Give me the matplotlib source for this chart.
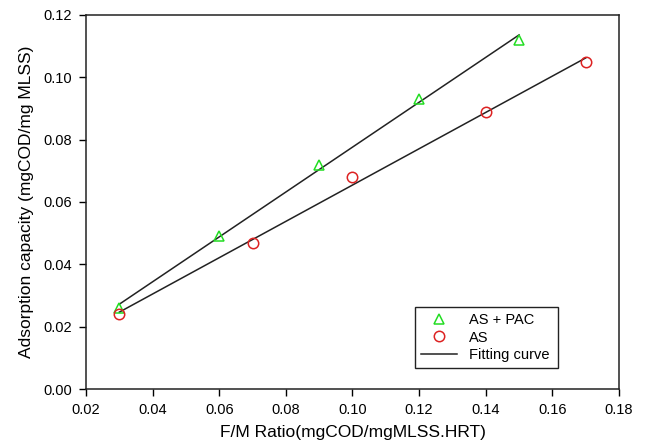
import numpy as np
import matplotlib
matplotlib.use("Agg")
import matplotlib.pyplot as plt
from matplotlib.lines import Line2D

plt.rcParams['font.family'] = ['Liberation Sans', 'DejaVu Sans']

# Data
x_pac = [0.03, 0.06, 0.09, 0.12, 0.15]
y_pac = [0.026, 0.049, 0.072, 0.093, 0.112]
x_as = [0.03, 0.07, 0.10, 0.14, 0.17]
y_as = [0.024, 0.047, 0.068, 0.089, 0.105]

xticks = [0.02, 0.04, 0.06, 0.08, 0.10, 0.12, 0.14, 0.16, 0.18]
yticks = [0.00, 0.02, 0.04, 0.06, 0.08, 0.10, 0.12]

fig = plt.figure(figsize=(6.46, 4.46), dpi=100)
ax = fig.add_axes([0.1331, 0.1278, 0.8251, 0.8386])

# fitted lines
for xs, ys in [(x_pac, y_pac), (x_as, y_as)]:
    xs_a = np.array(xs); ys_a = np.array(ys)
    k, b = np.polyfit(xs_a, ys_a, 1)
    xl = np.array([xs_a.min(), xs_a.max()])
    ax.plot(xl, k * xl + b, color='#222222', lw=1.1, zorder=2)

ax.plot(x_pac, y_pac, linestyle='none', marker='^', markersize=7.5,
        markerfacecolor='none', markeredgecolor='#22dd22', markeredgewidth=1.1, zorder=3)
ax.plot(x_as, y_as, linestyle='none', marker='o', markersize=7.5,
        markerfacecolor='none', markeredgecolor='#dd2222', markeredgewidth=1.1, zorder=3)

ax.set_xlim(0.02, 0.18)
ax.set_ylim(0.0, 0.12)
ax.set_xticks(xticks)
ax.set_yticks(yticks)
ax.set_xticklabels([f"{v:.2f}" for v in xticks])
ax.set_yticklabels([f"{v:.2f}" for v in yticks])
ax.tick_params(direction='out', length=5, width=1, labelsize=10.5, pad=5)
for s in ax.spines.values():
    s.set_linewidth(1.1)
    s.set_color('#222222')

ax.set_xlabel('F/M Ratio(mgCOD/mgMLSS.HRT)', fontsize=12.5, labelpad=6)
ax.set_ylabel('Adsorption capacity (mgCOD/mg MLSS)', fontsize=12.5, labelpad=7)

handles = [
    Line2D([], [], linestyle='none', marker='^', markersize=7.5, markerfacecolor='none',
           markeredgecolor='#22dd22', markeredgewidth=1.1),
    Line2D([], [], linestyle='none', marker='o', markersize=7.5, markerfacecolor='none',
           markeredgecolor='#dd2222', markeredgewidth=1.1),
    Line2D([], [], color='#222222', lw=1.1),
]
leg = ax.legend(handles, ['AS + PAC', 'AS', 'Fitting curve'], loc='lower left',
                bbox_to_anchor=(0.617, 0.056, 0.269, 0.201), mode='expand',
                fancybox=False, framealpha=1, edgecolor='#222222', fontsize=10.5,
                handlelength=2.5, borderaxespad=0, labelspacing=0.25)
leg.get_frame().set_linewidth(1.0)

fig.savefig('out.png', dpi=100)
